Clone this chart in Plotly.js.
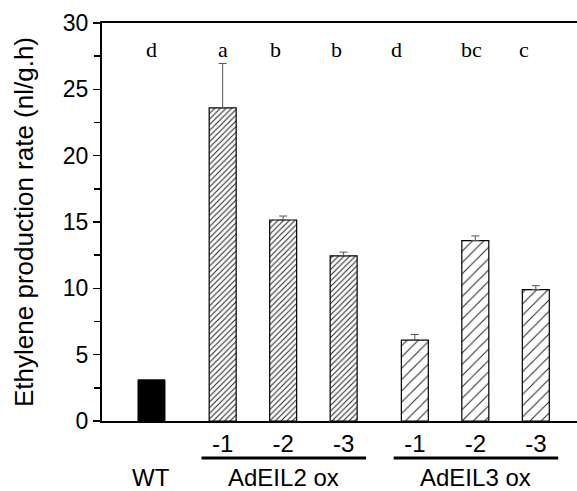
<!DOCTYPE html>
<html>
<head>
<meta charset="utf-8">
<script src="https://cdn.plot.ly/plotly-3.0.1.min.js"></script>
<style>html,body{margin:0;padding:0;background:#fff;}#chart{width:577px;height:491px;}</style>
</head>
<body>
<div id="chart"></div>
<script>
// ---- data ----
var lines = ['WT', '-1', '-2', '-3', '-1', '-2', '-3'];
var groupOf = ['WT', 'AdEIL2 ox', 'AdEIL2 ox', 'AdEIL2 ox', 'AdEIL3 ox', 'AdEIL3 ox', 'AdEIL3 ox'];
var rates = [3.1, 23.6, 15.15, 12.45, 6.1, 13.6, 9.9];
var errors = [0, 3.35, 0.3, 0.28, 0.42, 0.35, 0.3];
var letters = ['d', 'a', 'b', 'b', 'd', 'bc', 'c'];
var groups = ['AdEIL2 ox', 'AdEIL3 ox'];

// ---- layout helpers (positions computed, not data) ----
var GAP = 0.177; // extra spacing between groups
var pos = [];
var p = 0;
for (var i = 0; i < lines.length; i++) {
  if (i > 0) { p += 1; if (groupOf[i] !== groupOf[i - 1]) p += GAP; }
  pos.push(p);
}
var letterShift = [0, 0, -8, -7, -18, -4, -12];

function idxOf(g) { var r = []; groupOf.forEach(function (v, k) { if (v === g) r.push(k); }); return r; }

var traces = [];
var wt = idxOf('WT');
traces.push({
  type: 'bar', x: wt.map(function (k) { return pos[k]; }), y: wt.map(function (k) { return rates[k]; }),
  width: 0.446, marker: { color: '#000', line: { color: '#000', width: 1 } },
  showlegend: false, hoverinfo: 'skip'
});
var pat = { 'AdEIL2 ox': { size: 4, solidity: 0.25 }, 'AdEIL3 ox': { size: 8, solidity: 0.12 } };
groups.forEach(function (g) {
  var ids = idxOf(g);
  traces.push({
    type: 'bar',
    x: ids.map(function (k) { return pos[k]; }),
    y: ids.map(function (k) { return rates[k]; }),
    width: 0.446,
    marker: {
      color: '#fff',
      line: { color: '#000', width: 1.2 },
      pattern: { shape: '/', size: pat[g].size, solidity: pat[g].solidity, fgcolor: '#222', bgcolor: '#fff' }
    },
    error_y: {
      type: 'data', symmetric: false,
      array: ids.map(function (k) { return errors[k]; }),
      arrayminus: ids.map(function () { return 0; }),
      color: '#555', thickness: 1, width: 4
    },
    showlegend: false, hoverinfo: 'skip'
  });
});

var annotations = [];
letters.forEach(function (t, k) {
  annotations.push({
    x: pos[k], y: 28, xref: 'x', yref: 'y', text: t, showarrow: false,
    xshift: letterShift[k], font: { family: 'Liberation Serif, Times New Roman, serif', size: 22, color: '#000' }
  });
});
var labFont = { family: 'Liberation Sans, Arial, sans-serif', size: 24, color: '#000' };
annotations.push({
  x: pos[wt[0]], y: 0, xref: 'x', yref: 'y', yshift: -56, text: 'WT', showarrow: false,
  borderpad: 0, font: labFont
});
var shapes = [];
groups.forEach(function (g) {
  var ids = idxOf(g);
  var a = pos[ids[0]], b = pos[ids[ids.length - 1]];
  annotations.push({
    x: (a + b) / 2, y: 0, xref: 'x', yref: 'y', yshift: -56, text: g, showarrow: false,
    borderpad: 0, font: labFont
  });
  shapes.push({
    type: 'line', xref: 'x', yref: 'paper', x0: a - 0.35, x1: b + 0.37, y0: -0.093, y1: -0.093,
    line: { color: '#000', width: 3 }
  });
});

var layout = {
  width: 577, height: 491,
  margin: { l: 102, r: 0, t: 23, b: 70 },
  paper_bgcolor: '#fff', plot_bgcolor: '#fff',
  font: { family: 'Liberation Sans, Arial, sans-serif', color: '#000' },
  bargap: 0,
  xaxis: {
    range: [-0.818, 7.035], showgrid: false, zeroline: false,
    showline: true, mirror: true, linecolor: '#000', linewidth: 2,
    tickmode: 'array', tickvals: pos, ticktext: lines.map(function (t, k) { return groupOf[k] === 'WT' ? '' : t; }),
    ticks: '', tickfont: { size: 24, color: '#000' }
  },
  yaxis: {
    range: [0, 30], showgrid: false, zeroline: false,
    showline: true, linecolor: '#000', linewidth: 2,
    tickmode: 'linear', tick0: 0, dtick: 5,
    ticks: 'outside', ticklen: 7, tickwidth: 1.5, tickcolor: '#000',
    minor: { dtick: 2.5, ticks: 'outside', ticklen: 6, tickwidth: 1.5, tickcolor: '#000' },
    tickfont: { size: 23, color: '#000' },
    title: { text: 'Ethylene production rate (nl/g.h)', font: { size: 26, color: '#000' }, standoff: 22 }
  },
  annotations: annotations,
  shapes: shapes
};

Plotly.newPlot('chart', traces, layout, { displayModeBar: false, staticPlot: true });
</script>
</body>
</html>
